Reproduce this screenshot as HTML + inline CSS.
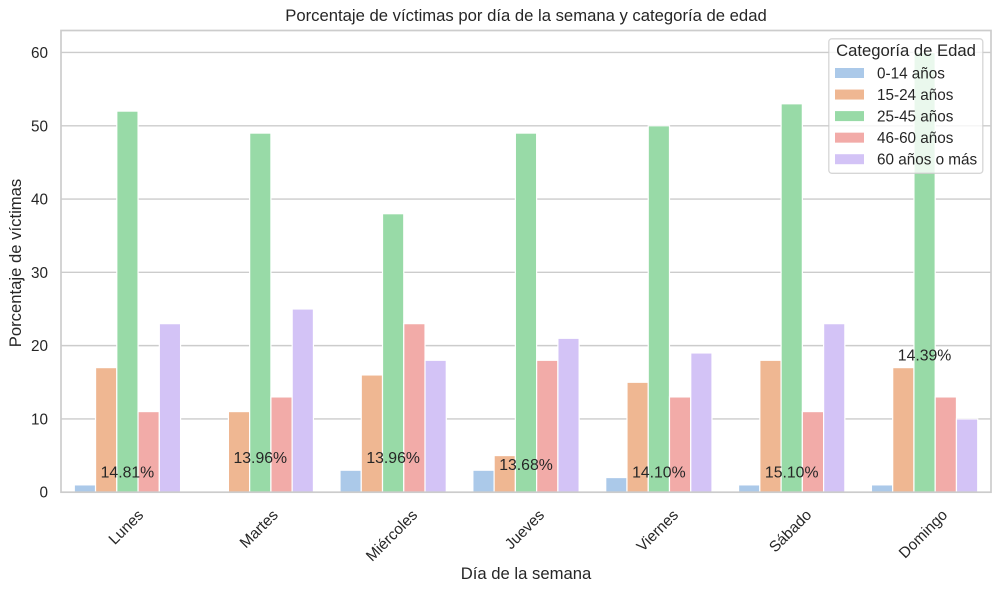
<!DOCTYPE html>
<html lang="es">
<head>
<meta charset="utf-8">
<title>Porcentaje de víctimas</title>
<style>
html,body{margin:0;padding:0;background:#fff;width:1000px;height:592px;overflow:hidden}
svg{display:block}
text{font-family:"Liberation Sans",Arial,sans-serif;fill:#262626}
</style>
</head>
<body>
<svg id="chart" xmlns="http://www.w3.org/2000/svg" width="1000" height="592" viewBox="0 0 1000 592"></svg>
<script>
const days = ['Lunes', 'Martes', 'Miércoles', 'Jueves', 'Viernes', 'Sábado', 'Domingo'];
const ageGroups = ['0-14 años', '15-24 años', '25-45 años', '46-60 años', '60 años o más'];
const age0to14 = [1, 0, 3, 3, 2, 1, 1];
const age15to24 = [17, 11, 16, 5, 15, 18, 17];
const age25to45 = [52, 49, 38, 49, 50, 53, 60];
const age46to60 = [11, 13, 23, 18, 13, 11, 13];
const age60plus = [23, 25, 18, 21, 19, 23, 10];
const yTicks = [0, 10, 20, 30, 40, 50, 60];
const dayShares = ['14.81%', '13.96%', '13.96%', '13.68%', '14.10%', '15.10%', '14.39%'];
const shareLabelHeights = [2, 4, 4, 3, 2, 2, 18];

const series = [age0to14, age15to24, age25to45, age46to60, age60plus];
const colors = ['#abc9e9', '#efb792', '#98daa7', '#f2aba8', '#d3c3f6'];
const left = 61, right = 991, top_ = 30.5, bottom = 492.2;
const yMax = 63;
const NS = 'http://www.w3.org/2000/svg';
const svg = document.getElementById('chart');

function xScale(i) { return left + (i + 0.5) * (right - left) / days.length; }
function yScale(v) { return bottom - v * (bottom - top_) / yMax; }
function make(tag, attrs, text) {
  const el = document.createElementNS(NS, tag);
  for (const k in attrs) el.setAttribute(k, attrs[k]);
  if (text !== undefined) el.textContent = text;
  svg.appendChild(el);
  return el;
}

yTicks.forEach(function (t) {
  const g = make('line', {x1: left, x2: right, y1: yScale(t), y2: yScale(t), stroke: '#cccccc', 'stroke-width': 1.4});
  
  
  const l = make('text', {x: 48, y: yScale(t) + 5.5, 'text-anchor': 'end', 'font-size': 15.28}, String(t));
  
  
});

const groupWidth = 0.8 * (right - left) / days.length;
const barWidth = groupWidth / series.length;
series.forEach(function (vals, s) {
  vals.forEach(function (v, i) {
    const x = xScale(i) - groupWidth / 2 + s * barWidth;
    const bar = make('rect', {x: x, y: yScale(v), width: barWidth, height: bottom - yScale(v), fill: colors[s], stroke: '#ffffff', 'stroke-width': 1.2});
    
    
  });
});

const spine = make('rect', {x: left, y: top_, width: right - left, height: bottom - top_, fill: 'none', stroke: '#cccccc', 'stroke-width': 1.7});



days.forEach(function (d, i) {
  const cx = xScale(i) - 1.8;
  const t = make('text', {x: cx, y: 0, 'text-anchor': 'middle', 'font-size': 15.28}, d);
  const cy = 508.5 + (t.getComputedTextLength() + 10) * 0.3535;
  t.setAttribute('y', cy + 5.5);
  t.setAttribute('transform', 'rotate(-45 ' + cx + ' ' + cy + ')');
  
  
  const a = make('text', {x: xScale(i), y: yScale(shareLabelHeights[i]), 'text-anchor': 'middle', 'font-size': 15.8}, dayShares[i]);
  
  
});

const title = make('text', {x: 526, y: 21, 'text-anchor': 'middle', 'font-size': 16.67}, 'Porcentaje de víctimas por día de la semana y categoría de edad');


const xTitle = make('text', {x: 526, y: 579, 'text-anchor': 'middle', 'font-size': 16.67}, 'Día de la semana');


const yTitle = make('text', {x: 21, y: 263, 'text-anchor': 'middle', 'font-size': 16.67, transform: 'rotate(-90 21 263)'}, 'Porcentaje de víctimas');



const box = make('rect', {x: 828.8, y: 38.8, width: 154, height: 134.5, rx: 3, ry: 3, fill: '#ffffff', 'fill-opacity': 0.8, stroke: '#cccccc', 'stroke-opacity': 0.8, 'stroke-width': 1.3});


const legendTitle = make('text', {x: 906, y: 56, 'text-anchor': 'middle', 'font-size': 16.67}, 'Categoría de Edad');


ageGroups.forEach(function (name, s) {
  const y = 73 + s * 21.55;
  const sw = make('rect', {x: 835, y: y - 5, width: 29, height: 10, fill: colors[s]});
  
  
  const lb = make('text', {x: 877, y: y + 5.5, 'font-size': 15.28}, name);
  
  
});
</script>
</body>
</html>
